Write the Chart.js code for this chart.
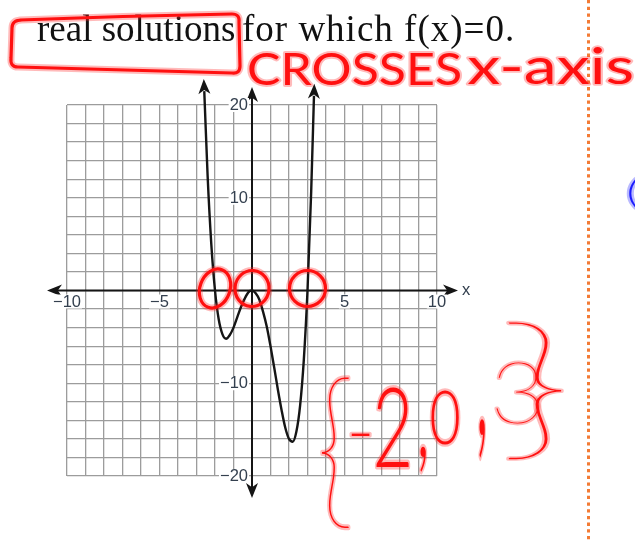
<!DOCTYPE html>
<html>
<head>
<meta charset="utf-8">
<script src="https://cdn.jsdelivr.net/npm/chart.js@4.4.1/dist/chart.umd.min.js"></script>
<style>
  html, body { margin: 0; padding: 0; background: #fff; }
  canvas { display: block; }
</style>
</head>
<body>
<canvas id="graph" width="635" height="540"></canvas>
<script>
// Curve samples of f(x)
const curveX = [-2.58, -2.4, -2.2, -2, -1.8, -1.6, -1.4, -1.2, -1, -0.8, -0.6, -0.4, -0.2, 0,
  0.2, 0.4, 0.6, 0.8, 1, 1.2, 1.4, 1.6, 1.8, 2, 2.2, 2.4, 2.6, 2.8, 3, 3.2, 3.35];
const curveY = [21.5, 12.4, 5.0, 0, -3.1, -4.7, -5.2, -4.8, -4.0, -2.9, -1.8, -0.9, -0.2, 0,
  -0.3, -1.0, -2.3, -3.9, -6.0, -8.3, -10.7, -12.9, -14.8, -16.0, -16.3, -15.2, -12.4, -7.5, 0, 10.7, 21.0];

// Zeros of f, circled on the x-axis
const roots = [-2, 0, 3];

// Axis tick labels
const xTickLabels = [-10, -5, 5, 10];
const yTickLabels = [20, 10, -10, -20];

const INK_RED = "#ff1010";
const INK_HALO = "rgba(255, 40, 40, 0.32)";

function arrowHead(ctx, x, y, angle, len, half) {
  ctx.save();
  ctx.translate(x, y);
  ctx.rotate(angle);
  ctx.beginPath();
  ctx.moveTo(0, 0);
  ctx.lineTo(-len, -half);
  ctx.lineTo(-len * 0.72, 0);
  ctx.lineTo(-len, half);
  ctx.closePath();
  ctx.fill();
  ctx.restore();
}

function fmt(v) {
  return v < 0 ? "\u2212" + Math.abs(v) : String(v);
}

// Draw a piece of marker writing so its glyph box fills [x0, y0, x1, y1]
function ink(ctx, text, box, color, halo, weight) {
  const [x0, y0, x1, y1] = box;
  ctx.save();
  ctx.font = (weight || 100) + ' 100px Lato, "DejaVu Sans"';
  ctx.textAlign = "left";
  ctx.textBaseline = "alphabetic";
  const m = ctx.measureText(text);
  const w = m.actualBoundingBoxLeft + m.actualBoundingBoxRight;
  const h = m.actualBoundingBoxAscent + m.actualBoundingBoxDescent;
  const sx = (x1 - x0) / w;
  const sy = (y1 - y0) / h;
  const k = Math.sqrt(sx * sy);
  ctx.translate(x0 + m.actualBoundingBoxLeft * sx, y0 + m.actualBoundingBoxAscent * sy);
  ctx.scale(sx, sy);
  ctx.lineJoin = "round";
  ctx.lineCap = "round";
  ctx.strokeStyle = halo;
  ctx.lineWidth = 4 / k;
  ctx.strokeText(text, 0, 0);
  ctx.fillStyle = color;
  ctx.fillText(text, 0, 0);
  ctx.restore();
}

function inkPath(ctx, build) {
  ctx.save();
  ctx.lineJoin = "round";
  ctx.lineCap = "round";
  ctx.strokeStyle = INK_HALO;
  ctx.lineWidth = 7;
  ctx.beginPath(); build(); ctx.stroke();
  ctx.strokeStyle = INK_RED;
  ctx.lineWidth = 3.2;
  ctx.beginPath(); build(); ctx.stroke();
  ctx.restore();
}

const axesPlugin = {
  id: "axes",
  beforeDatasetsDraw(chart) {
    const { ctx, chartArea: a, scales: { x, y } } = chart;
    const x0 = x.getPixelForValue(0);
    const y0 = y.getPixelForValue(0);

    ctx.save();
    ctx.strokeStyle = "#151515";
    ctx.fillStyle = "#151515";
    ctx.lineWidth = 2;
    // x-axis
    ctx.beginPath();
    ctx.moveTo(a.left - 12, y0);
    ctx.lineTo(a.right + 12, y0);
    ctx.stroke();
    arrowHead(ctx, a.left - 20, y0, Math.PI, 15, 6);
    arrowHead(ctx, a.right + 21, y0, 0, 15, 6);
    // y-axis
    ctx.beginPath();
    ctx.moveTo(x0, a.top - 10);
    ctx.lineTo(x0, a.bottom + 13);
    ctx.stroke();
    arrowHead(ctx, x0, a.top - 18, -Math.PI / 2, 15, 6);
    arrowHead(ctx, x0, a.bottom + 22, Math.PI / 2, 15, 6);

    // tick labels on white patches
    ctx.font = '16.5px "Liberation Sans", Arial, sans-serif';
    ctx.textBaseline = "middle";
    const label = (text, px, py, align) => {
      ctx.textAlign = align;
      const tw = ctx.measureText(text).width;
      const left = align === "center" ? px - tw / 2 : px - tw;
      ctx.fillStyle = "#fff";
      ctx.fillRect(left - 1, py - 7, tw + 2, 14);
      ctx.fillStyle = "#34404f";
      ctx.fillText(text, px, py + 0.5);
    };
    xTickLabels.forEach((v) => label(fmt(v), x.getPixelForValue(v), y0 + 11, "center"));
    yTickLabels.forEach((v) => label(fmt(v), x0 - 4, y.getPixelForValue(v), "right"));
    ctx.textAlign = "left";
    ctx.fillStyle = "#34404f";
    ctx.fillText("x", a.right + 25, y0);
    ctx.restore();
  },
  afterDatasetsDraw(chart) {
    // arrowheads on both ends of the curve
    const { ctx } = chart;
    const pts = chart.getDatasetMeta(0).data;
    const ends = [[pts[1], pts[0]], [pts[pts.length - 2], pts[pts.length - 1]]];
    ctx.save();
    ctx.fillStyle = "#151515";
    ends.forEach(([p, q]) => {
      const ang = Math.atan2(q.y - p.y, q.x - p.x);
      arrowHead(ctx, q.x + Math.cos(ang) * 12, q.y + Math.sin(ang) * 12, ang, 15, 6);
    });
    ctx.restore();
  },
};

const notesPlugin = {
  id: "notes",
  afterDraw(chart) {
    const { ctx, scales: { x, y } } = chart;

    // margin rule
    ctx.save();
    ctx.strokeStyle = "#f37b35";
    ctx.lineWidth = 3;
    ctx.setLineDash([3.3, 3.4]);
    ctx.beginPath();
    ctx.moveTo(588.5, 0);
    ctx.lineTo(588.5, 540);
    ctx.stroke();
    ctx.restore();

    // printed prompt
    ctx.save();
    ctx.fillStyle = "#111";
    ctx.font = '37px "Liberation Serif", "Times New Roman", serif';
    ctx.textBaseline = "alphabetic";
    ctx.fillText("real solutions", 37, 41);
    ctx.letterSpacing = "1px";
    ctx.fillText("for which f(x)=0.", 242, 41);
    ctx.restore();

    // box drawn round "real solutions"
    inkPath(ctx, () => {
      ctx.moveTo(20, 20);
      ctx.quadraticCurveTo(120, 16, 232, 14);
      ctx.quadraticCurveTo(240, 14, 239, 22);
      ctx.lineTo(240, 66);
      ctx.quadraticCurveTo(240, 74, 232, 73);
      ctx.quadraticCurveTo(120, 70, 18, 67);
      ctx.quadraticCurveTo(10, 67, 11, 58);
      ctx.lineTo(12, 28);
      ctx.quadraticCurveTo(12, 20, 22, 20);
    });

    // circles round each zero
    const y0 = y.getPixelForValue(0);
    const radii = [[15, 20, 0.35], [17, 18, 0.1], [18, 18, 0]];
    roots.forEach((r, i) => {
      const [rx, ry, rot] = radii[i];
      inkPath(ctx, () => ctx.ellipse(x.getPixelForValue(r), y0 - 2, rx, ry, rot, 0, Math.PI * 2));
    });

    // handwriting
    ink(ctx, "CROSSES", [249, 52, 460, 85], INK_RED, INK_HALO, 400);
    ink(ctx, "x-axis", [468, 47, 632, 85], INK_RED, INK_HALO, 400);
    const setGlyphs = [
      ["{", [321, 377, 349, 528], 100],
      ["-", [351, 432, 370, 435], 300],
      ["2", [376, 387, 409, 467], 300],
      [",", [420, 446, 426, 472], 300],
      ["0", [431, 389, 459, 445], 300],
      [",", [479, 419, 485, 459], 300],
      ["3", [496, 362, 539, 424], 200],
      ["}", [508, 321, 563, 459], 100],
    ];
    setGlyphs.forEach(([g, box, wt]) => ink(ctx, g, box, INK_RED, INK_HALO, wt));
    ink(ctx, "(", [629, 179, 638, 209], "#1c1cff", "rgba(40, 40, 255, 0.32)", 300);
  },
};

new Chart(document.getElementById("graph"), {
  type: "line",
  data: {
    datasets: [
      {
        data: curveX.map((v, i) => ({ x: v, y: curveY[i] })),
        borderColor: "#151515",
        borderWidth: 2.4,
        pointRadius: 0,
        cubicInterpolationMode: "monotone",
        clip: false,
      },
    ],
  },
  options: {
    responsive: false,
    animation: false,
    events: [],
    layout: { padding: { left: 67, right: 198, top: 105, bottom: 64 } },
    plugins: { legend: { display: false }, tooltip: { enabled: false } },
    scales: {
      x: {
        type: "linear",
        min: -10,
        max: 10,
        ticks: { display: false, stepSize: 1 },
        grid: { color: "#9c9c9c", lineWidth: 1.3, drawTicks: false },
        border: { display: false },
      },
      y: {
        type: "linear",
        min: -20,
        max: 20,
        ticks: { display: false, stepSize: 2 },
        grid: { color: "#9c9c9c", lineWidth: 1.3, drawTicks: false },
        border: { display: false },
      },
    },
  },
  plugins: [axesPlugin, notesPlugin],
});
</script>
</body>
</html>
